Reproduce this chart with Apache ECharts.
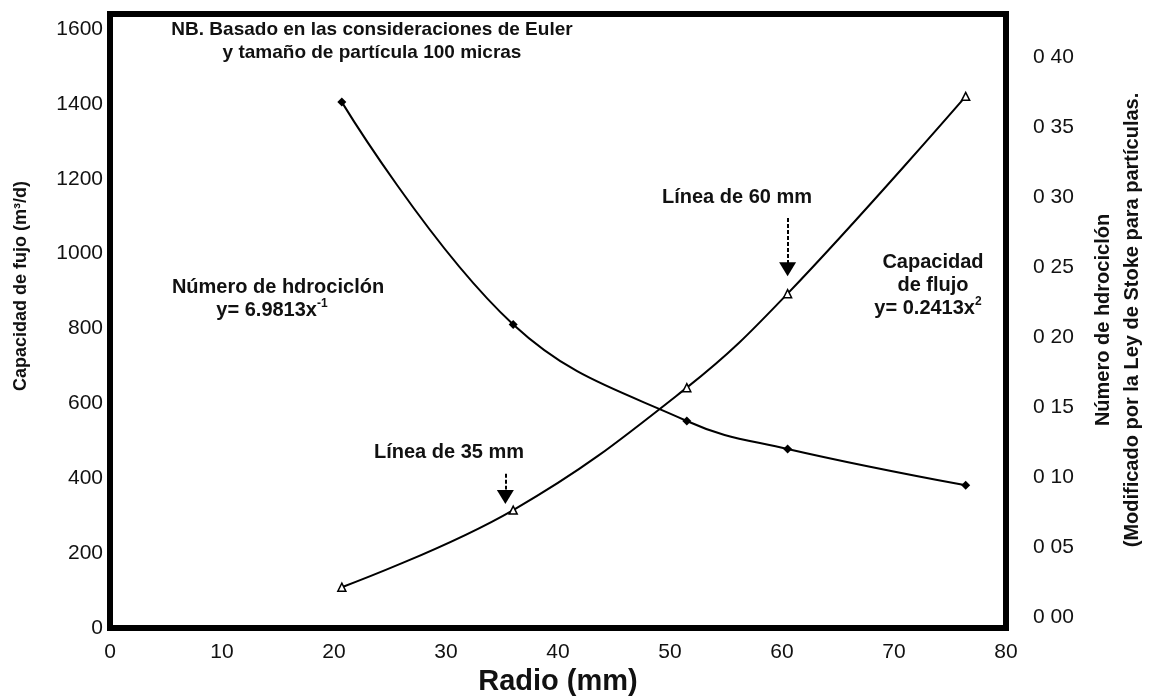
<!DOCTYPE html>
<html>
<head>
<meta charset="utf-8">
<script src="https://cdn.jsdelivr.net/npm/echarts@6/dist/echarts.min.js"></script>
<style>html,body{margin:0;padding:0;background:#fff;}#c{width:1151px;height:700px;}</style>
</head>
<body>
<div id="c"></div>
<script>
// Radio (mm) values of the points
const radio = [20.7, 36, 51.5, 60.5, 76.4];
// Capacidad de flujo (m3/d) - left axis
const capacidad = [109, 315, 642, 893, 1420];
// Número de hidrociclón - right axis
const numero = [0.368, 0.209, 0.140, 0.120, 0.094];
// tick labels
const xTicks = [0, 10, 20, 30, 40, 50, 60, 70, 80];
const leftTicks = [0, 200, 400, 600, 800, 1000, 1200, 1400, 1600];
const rightTicks = [0, 0.05, 0.10, 0.15, 0.20, 0.25, 0.30, 0.35, 0.40];
// annotation arrows (data coords: radio, capacidad)
const arrow60 = {x: 60.5, from: 1095, to: 975, head: 958};
const arrow35 = {x: 35.3, from: 412, to: 370, head: 350};

const FONT = '"Liberation Sans", Arial, sans-serif';
const chart = echarts.init(document.getElementById('c'), null, {renderer: 'canvas'});

function pairs(xs, ys){ return xs.map((x,i)=>[x, ys[i]]); }
const supRich = {
  b: {fontSize: 20, fontWeight: 'bold', fontFamily: FONT, fill: '#111', lineHeight: 24},
  s: {fontSize: 12, fontWeight: 'bold', fontFamily: FONT, fill: '#111', verticalAlign: 'top', lineHeight: 24, padding: [0,0,12,0]}
};
function txt(x, y, text, size, rot){
  const g = {type: 'text', x: x, y: y, style: {text: text, font: 'bold ' + size + 'px ' + FONT, fill: '#111', textAlign: 'center', textVerticalAlign: 'middle'}};
  if (rot) g.rotation = rot;
  return g;
}

const option = {
  backgroundColor: '#ffffff',
  animation: false,
  textStyle: {fontFamily: FONT, color: '#111'},
  grid: {left: 110, right: 145, top: 14, bottom: 72, show: true, borderColor: '#000', borderWidth: 6,
    backgroundColor: 'transparent', containLabel: false, outerBoundsMode: 'none'},
  xAxis: {
    type: 'value', min: xTicks[0], max: xTicks[xTicks.length-1], interval: 10,
    axisLine: {show: false}, axisTick: {show: false}, splitLine: {show: false},
    axisLabel: {fontSize: 21, color: '#111', margin: 14, fontFamily: FONT},
    name: 'Radio (mm)', nameLocation: 'middle', nameGap: 38,
    nameTextStyle: {fontSize: 29, fontWeight: 'bold', color: '#111', fontFamily: FONT}
  },
  yAxis: [
    {
      type: 'value', position: 'left', min: 0, max: 1640, interval: 200,
      axisLine: {show: false}, axisTick: {show: false}, splitLine: {show: false},
      axisLabel: {fontSize: 21, color: '#111', margin: 7, fontFamily: FONT,
        customValues: leftTicks, formatter: v => String(v)}
    },
    {
      type: 'value', position: 'right', min: -0.008, max: 0.431,
      axisLine: {show: false}, axisTick: {show: false}, splitLine: {show: false},
      axisLabel: {fontSize: 21, color: '#111', margin: 27, fontFamily: FONT,
        customValues: rightTicks,
        formatter: v => v.toFixed(2).replace('.', ' ')}
    }
  ],
  graphic: [
    txt(372, 30, 'NB. Basado en las consideraciones de Euler', 19),
    txt(372, 53, 'y tamaño de partícula 100 micras', 19),
    txt(278, 287, 'Número de hdrociclón', 20),
    {type: 'text', x: 272, y: 310, style: {text: '{b|y= 6.9813x}{s|-1}', textAlign: 'center', textVerticalAlign: 'middle', rich: supRich}},
    txt(933, 262, 'Capacidad', 20),
    txt(933, 285, 'de flujo', 20),
    {type: 'text', x: 928, y: 308, style: {text: '{b|y= 0.2413x}{s|2}', textAlign: 'center', textVerticalAlign: 'middle', rich: supRich}},
    txt(737, 197, 'Línea de 60 mm', 20),
    txt(449, 452, 'Línea de 35 mm', 20),
    txt(21, 286, 'Capacidad de fujo (m³/d)', 18, Math.PI/2),
    txt(1103, 320, 'Número de hdrociclón', 20, Math.PI/2),
    txt(1132, 320, '(Modificado por la Ley de Stoke para partículas.', 20, Math.PI/2)
  ],
  series: [
    {
      name: 'Capacidad de flujo', type: 'line', yAxisIndex: 0, smooth: 0.4,
      data: pairs(radio, capacidad),
      symbol: 'triangle', symbolSize: 8, showSymbol: true,
      lineStyle: {color: '#000', width: 2},
      itemStyle: {color: '#fff', borderColor: '#000', borderWidth: 1.5},
      markLine: {
        silent: true, symbol: ['none', 'none'],
        lineStyle: {color: '#000', width: 2, type: [4, 2]},
        label: {show: false},
        data: [
          [{coord: [arrow60.x, arrow60.from]}, {coord: [arrow60.x, arrow60.to]}],
          [{coord: [arrow35.x, arrow35.from]}, {coord: [arrow35.x, arrow35.to]}]
        ]
      },
      markPoint: {
        silent: true, symbol: 'triangle', symbolSize: [17, 14], symbolRotate: 180,
        itemStyle: {color: '#000'}, label: {show: false},
        data: [
          {coord: [arrow60.x, arrow60.head]},
          {coord: [arrow35.x, arrow35.head]}
        ]
      }
    },
    {
      name: 'Número de hidrociclón', type: 'line', yAxisIndex: 1, smooth: 0.4,
      data: pairs(radio, numero),
      symbol: 'diamond', symbolSize: 9, showSymbol: true,
      lineStyle: {color: '#000', width: 2},
      itemStyle: {color: '#000'}
    }
  ]
};
chart.setOption(option);
</script>
</body>
</html>
